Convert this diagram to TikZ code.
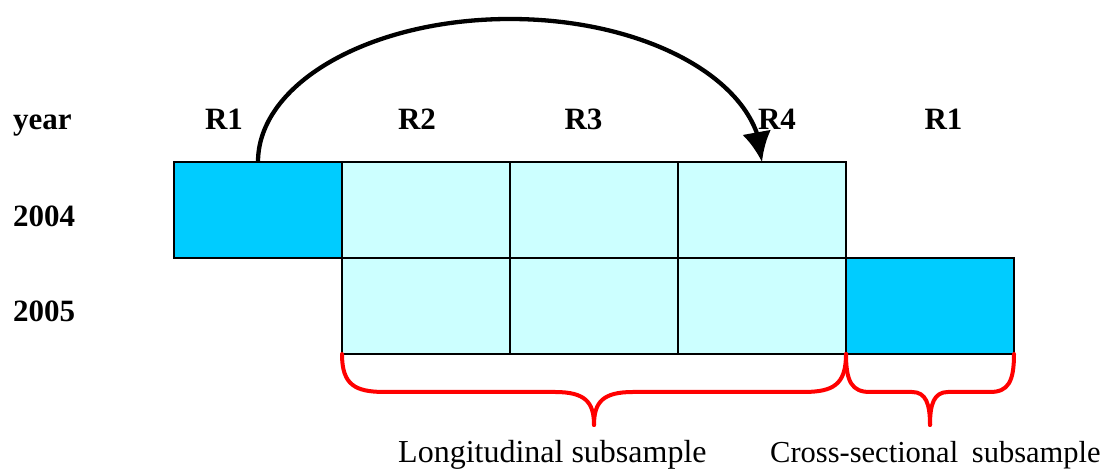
\documentclass[tikz,border=0pt]{standalone}
\usepackage{fontspec}
\setmainfont{Liberation Serif}
\usetikzlibrary{arrows.meta,bending}
\definecolor{deepcyan}{HTML}{00CCFF}
\definecolor{palecyan}{HTML}{CCFFFF}
\begin{document}
\begin{tikzpicture}[x=1pt,y=1pt,
  cell/.style={draw=black,line width=1.2pt,minimum width=168pt,minimum height=96pt,inner sep=0pt,outer sep=0pt},
  panel/.style={cell,fill=palecyan},
  fresh/.style={cell,fill=deepcyan},
  headlabel/.style={font=\fontsize{31}{36}\selectfont\bfseries,inner sep=0pt},
  groupnote/.style={font=\fontsize{32}{38}\selectfont,inner sep=0pt,anchor=base west},
  grouping/.style={draw=red,line width=4pt,line cap=round,line join=round},
  rotation/.style={draw=black,line width=4.3pt,-{Latex[length=30pt,width=29pt,flex]}}]
\useasboundingbox (0,0) rectangle (1109,470);

% row and column headings
\node[headlabel,anchor=base west] (hyear) at (13,340) {year};
\node[headlabel,anchor=base west] (h2004) at (13,243) {2004};
\node[headlabel,anchor=base west] (h2005) at (13,148) {2005};
\node[headlabel,anchor=base] (r1a) at (224,340) {R1};
\node[headlabel,anchor=base] (r2) at (417,340) {R2};
\node[headlabel,anchor=base] (r3) at (583.5,340) {R3};
\node[headlabel,anchor=base] (r4) at (777,340) {R4};
\node[headlabel,anchor=base] (r1b) at (943.5,340) {R1};

% 2004 wave
\node[fresh] (a1) at (258,260) {};
\node[panel] (a2) at (426,260) {};
\node[panel] (a3) at (594,260) {};
\node[panel] (a4) at (762,260) {};
% 2005 wave
\node[panel] (b2) at (426,164) {};
\node[panel] (b3) at (594,164) {};
\node[panel] (b4) at (762,164) {};
\node[fresh] (b5) at (930,164) {};

% rotation arrow from R1 to R4
\draw[rotation] (a1.north) .. controls (258,387) and (370.8,451) .. (510,451)
  .. controls (649.2,451) and (762,387) .. (a4.north);

% longitudinal brace
\draw[grouping] (b2.south west) .. controls (342,85) and (355,78) .. (385,78) -- (555,78)
  .. controls (585,78) and (594,68) .. (594,45);
\draw[grouping] (b4.south east) .. controls (846,85) and (833,78) .. (803,78) -- (633,78)
  .. controls (603,78) and (594,68) .. (594,45);
% cross-sectional brace
\draw[grouping] (b5.south west) .. controls (846,88) and (852,78) .. (870,78) -- (912,78)
  .. controls (926,78) and (930,66) .. (930,45);
\draw[grouping] (b5.south east) .. controls (1014,88) and (1008,78) .. (990,78) -- (948,78)
  .. controls (934,78) and (930,66) .. (930,45);

\node[groupnote] (lnote) at (398,7.5) {Longitudinal subsample};
\node[groupnote,font=\fontsize{30.5}{36}\selectfont] (cnote) at (770,7.5) {Cross-sectional\hspace{0.45em}subsample};
\end{tikzpicture}
\end{document}
